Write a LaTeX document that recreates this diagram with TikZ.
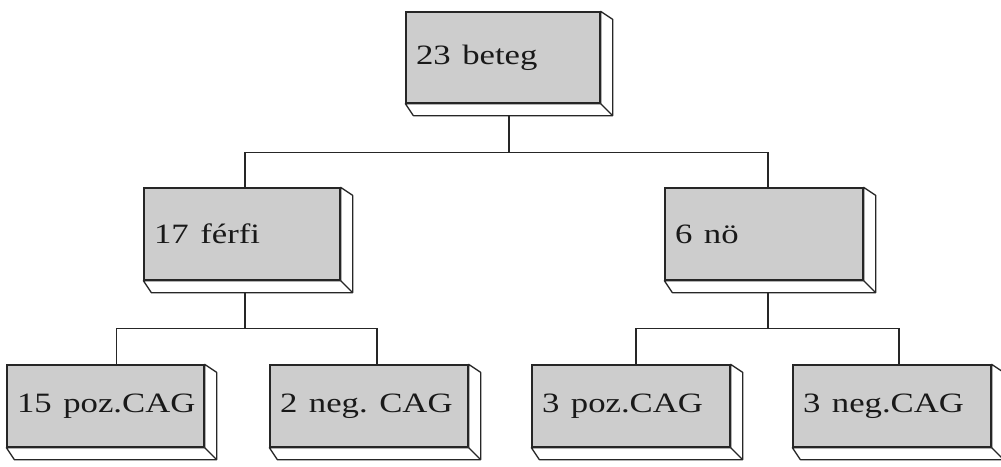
\documentclass[tikz,border=0pt]{standalone}
\usepackage{fontspec}
\setmainfont{Liberation Serif}
\usetikzlibrary{calc}
\definecolor{ink}{HTML}{262626}
\definecolor{facegray}{HTML}{CDCDCD}
\tikzset{
  face/.style={draw=ink, fill=facegray, line width=1.3pt, inner xsep=10pt, inner ysep=0pt,
    align=left, anchor=center, font=\fontsize{28}{33}\selectfont, text=black!90},
  sideface/.style={draw=ink, fill=white, line width=1.3pt, line join=round},
  conn/.style={draw=ink, line width=1.3pt}
}
\newcommand\mkside[1]{%
  \draw[sideface] (#1.north east) -- ++(12,8) -- ($(#1.south east)+(12,12)$)
    -- ($(#1.south west)+(8,12)$) -- (#1.south west) -- (#1.south east) -- cycle;
  \draw[sideface] (#1.south east) -- ++(12,12);}
\newcommand\wtext[1]{\raisebox{-2pt}{\scalebox{1.24}[1]{#1}}}
\begin{document}
\frenchspacing
\begin{tikzpicture}[x=1pt, y=-1pt]
  \useasboundingbox (0,0) rectangle (1001,466);
  \clip (0,0) rectangle (1001,466);
  \fill[white] (0,0) rectangle (1001,466);

  % level 1
  \node[face, text width=174pt, minimum height=91pt] (top) at (503,57.5) {\wtext{23 beteg}};
  \mkside{top}
  % level 2
  \node[face, text width=176pt, minimum height=92pt] (fe) at (242,234) {\wtext{17 férfi}};
  \mkside{fe}
  \node[face, text width=178pt, minimum height=92pt] (no) at (764,234) {\wtext{6 nö}};
  \mkside{no}
  % level 3
  \node[face, text width=177pt, minimum height=82pt] (a) at (105.5,406) {\wtext{15 poz.CAG}};
  \mkside{a}
  \node[face, text width=178pt, minimum height=82pt] (b) at (369,406) {\wtext{2 neg. CAG}};
  \mkside{b}
  \node[face, text width=178pt, minimum height=82pt] (c) at (631,406) {\wtext{3 poz.CAG}};
  \mkside{c}
  \node[face, text width=178pt, minimum height=82pt] (d) at (892,406) {\wtext{3 neg.CAG}};
  \mkside{d}

  % connectors
  \coordinate (tb) at ($(top.south)+(6,12)$);
  \draw[conn] (tb) -- ++(0,37) coordinate (j1);
  \draw[conn] ($(fe.north)+(3,0)$) |- (j1) -| ($(no.north)+(4,0)$);

  \coordinate (fb) at ($(fe.south)+(3,12)$);
  \draw[conn] (fb) -- ++(0,36) coordinate (j2);
  \draw[conn] ($(a.north)+(11,0)$) |- (j2) -| ($(b.north)+(8,0)$);

  \coordinate (nb) at ($(no.south)+(4,12)$);
  \draw[conn] (nb) -- ++(0,36) coordinate (j3);
  \draw[conn] ($(c.north)+(5,0)$) |- (j3) -| ($(d.north)+(7,0)$);
\end{tikzpicture}
\end{document}
